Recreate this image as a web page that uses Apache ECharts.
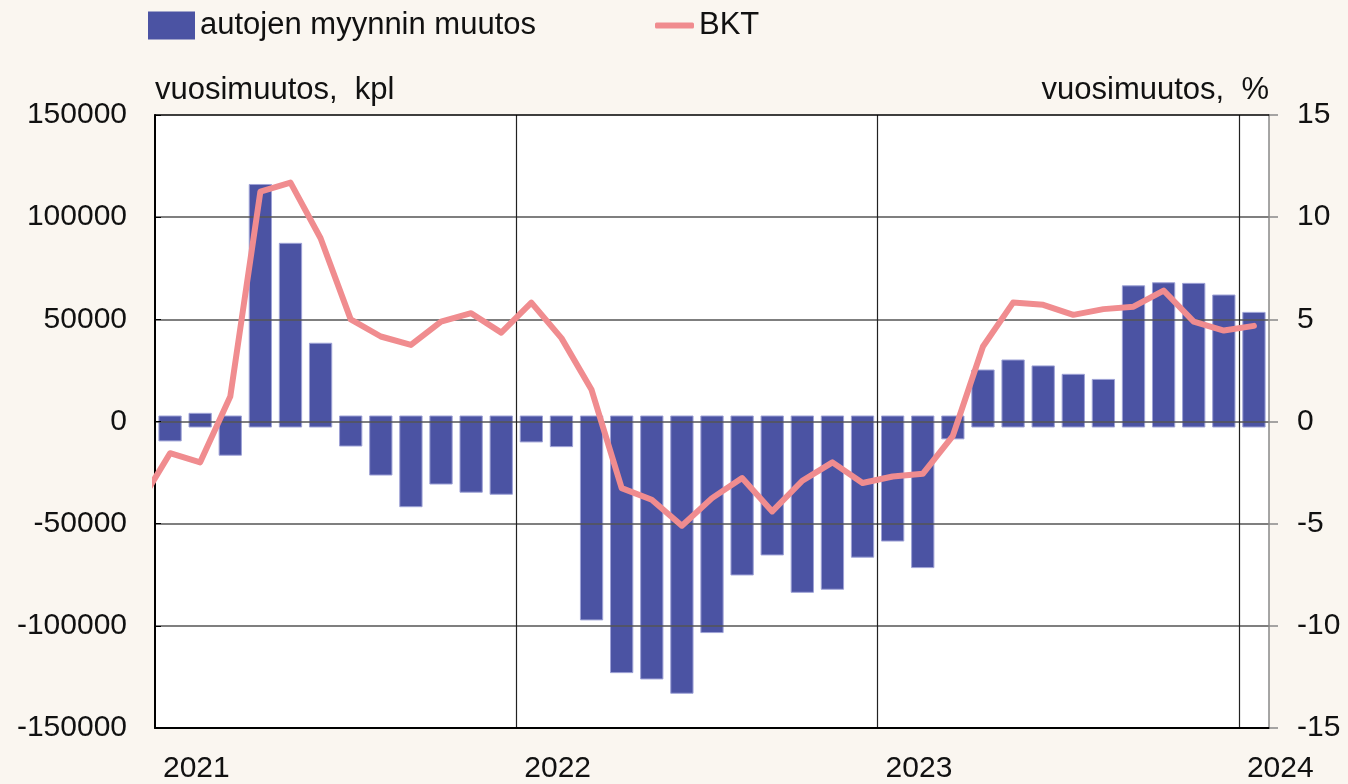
<!DOCTYPE html>
<html lang="fi">
<head>
<meta charset="UTF-8">
<title>autojen myynti ja BKT</title>
<script src="https://cdn.jsdelivr.net/npm/echarts@6/dist/echarts.min.js"></script>
<style>
    html, body { margin: 0; padding: 0; background: #faf6f0; }
    #chart { width: 1348px; height: 784px; }
</style>
</head>
<body>
<div id="chart"></div>
<script>
// vuodet x-akselilla (tammikuun kohdalla)
var yearLabels = ['2021', '2022', '2023', '2024'];

// autojen myynnin muutos, kpl, 1/2021 - 1/2024
var salesChange = [
    -9500, 4000, -16500, 116000, 87200, 38300, -12000, -26200, -41700, -30600, -34600, -35600,
    -10000, -12300, -97100, -122900, -126000, -133000, -103300, -75100, -65300, -83600, -82100, -66400,
    -58500, -71500, -8500, 25200, 30100, 27200, 23100, 20600, 66400, 67900, 67600, 61900,
    53400
];

// BKT vuosimuutos %, 12/2020 - 1/2024 (ensimmäinen piste jää kuvan ulkopuolelle)
var bktChange = [
    -4.0,
    -1.55, -2.0, 1.22, 11.25, 11.69, 8.97, 5.0, 4.16, 3.75, 4.89, 5.3, 4.35,
    5.82, 4.08, 1.55, -3.26, -3.83, -5.10, -3.75, -2.77, -4.40, -2.90, -2.00, -3.01,
    -2.69, -2.56, -0.70, 3.67, 5.82, 5.71, 5.22, 5.5, 5.62, 6.41, 4.89, 4.45,
    4.68
];

(function () {
    var chart = echarts.init(document.getElementById('chart'));
    var font = "'Liberation Sans', Arial, sans-serif";
    var barColor = '#4b53a3';
    var lineColor = '#f08c8f';

    // kuukauden keskikohta x-akselilla
    var barData = salesChange.map(function (v, i) { return [i + 0.5, v]; });
    var lineData = bktChange.map(function (v, i) { return [i - 0.5, v]; });

    var option = {
        backgroundColor: '#faf6f0',
        textStyle: { fontFamily: font },
        legend: [{
            data: ['autojen myynnin muutos'],
            left: 148, top: 10, padding: 0,
            itemWidth: 47, itemHeight: 28,
            icon: 'rect',
            textStyle: { fontSize: 31, color: '#111', fontFamily: font, lineHeight: 28 }
        }, {
            data: ['BKT'],
            left: 655, top: 10, padding: 0,
            itemWidth: 39, itemHeight: 6,
            icon: 'roundRect',
            textStyle: { fontSize: 31, color: '#111', fontFamily: font, lineHeight: 28 }
        }],
        grid: {
            left: 155, right: 79, top: 115, bottom: 56,
            show: true, backgroundColor: '#ffffff', borderWidth: 0
        },
        xAxis: [{
            type: 'value', min: 0, max: 37, interval: 12,
            z: 2,
            axisLine: { onZero: false, lineStyle: { color: '#000', width: 2 } },
            axisTick: { show: false },
            axisLabel: {
                fontSize: 30, color: '#111', fontFamily: font,
                align: 'left', padding: [0, 0, 0, 8], margin: 26,
                formatter: function (v) { return v % 12 === 0 ? yearLabels[v / 12] : ''; }
            },
            splitLine: { show: true, showMinLine: false, showMaxLine: false,
                lineStyle: { color: '#222', width: 1.2 } }
        }, {
            type: 'value', min: 0, max: 37, position: 'top',
            z: 2,
            axisLine: { onZero: false, lineStyle: { color: '#000', width: 1.5 } },
            axisTick: { show: false }, axisLabel: { show: false }, splitLine: { show: false }
        }],
        yAxis: [{
            type: 'value', min: -150000, max: 150000, interval: 50000,
            position: 'left', z: 2,
            name: 'vuosimuutos,  kpl', nameLocation: 'end', nameGap: 25,
            nameTextStyle: { fontSize: 31, color: '#111', align: 'left', verticalAlign: 'middle', fontFamily: font },
            axisLine: { show: true, onZero: false, lineStyle: { color: '#000', width: 2 } },
            axisTick: { show: true, inside: true, length: 6, lineStyle: { color: '#000' } },
            axisLabel: { fontSize: 30, color: '#111', margin: 28, fontFamily: font,
                formatter: function (v) { return String(v); } },
            splitLine: { show: true, showMinLine: false, showMaxLine: false,
                lineStyle: { color: '#555', width: 1.5 } }
        }, {
            type: 'value', min: -15, max: 15, interval: 5,
            position: 'right', z: 2,
            name: 'vuosimuutos,  %', nameLocation: 'end', nameGap: 25,
            nameTextStyle: { fontSize: 31, color: '#111', align: 'right', verticalAlign: 'middle', fontFamily: font },
            axisLine: { show: true, onZero: false, lineStyle: { color: '#888', width: 1.5 } },
            axisTick: { show: true, length: 9, lineStyle: { color: '#888', width: 1.5 } },
            axisLabel: { fontSize: 30, color: '#111', margin: 28, fontFamily: font },
            splitLine: { show: false }
        }],
        series: [{
            name: 'autojen myynnin muutos',
            type: 'custom',
            xAxisIndex: 0, yAxisIndex: 0,
            z: 1,
            itemStyle: { color: barColor },
            renderItem: function (params, api) {
                var x = api.value(0), v = api.value(1);
                var p = api.coord([x, v]);
                var zero = api.coord([x, 0]);
                var w = api.size([1, 0])[0] * 0.74;
                var over = 5.5; // palkit ulottuvat hieman nollaviivan yli
                var top, bottom;
                if (v >= 0) { top = p[1]; bottom = zero[1] + over; }
                else { top = zero[1] - over; bottom = p[1]; }
                return {
                    type: 'rect',
                    shape: { x: p[0] - w / 2, y: top, width: w, height: bottom - top },
                    style: { fill: barColor, stroke: '#9ea2d6', lineWidth: 1 }
                };
            },
            data: barData
        }, {
            name: 'BKT',
            type: 'line',
            xAxisIndex: 0, yAxisIndex: 1,
            z: 3,
            symbol: 'none',
            showSymbol: false,
            clip: true,
            lineStyle: { color: lineColor, width: 6, cap: 'round', join: 'round' },
            itemStyle: { color: lineColor },
            data: lineData
        }]
    };

    chart.setOption(option);
    window.addEventListener('resize', function () { chart.resize(); });
})();
</script>
</body>
</html>
